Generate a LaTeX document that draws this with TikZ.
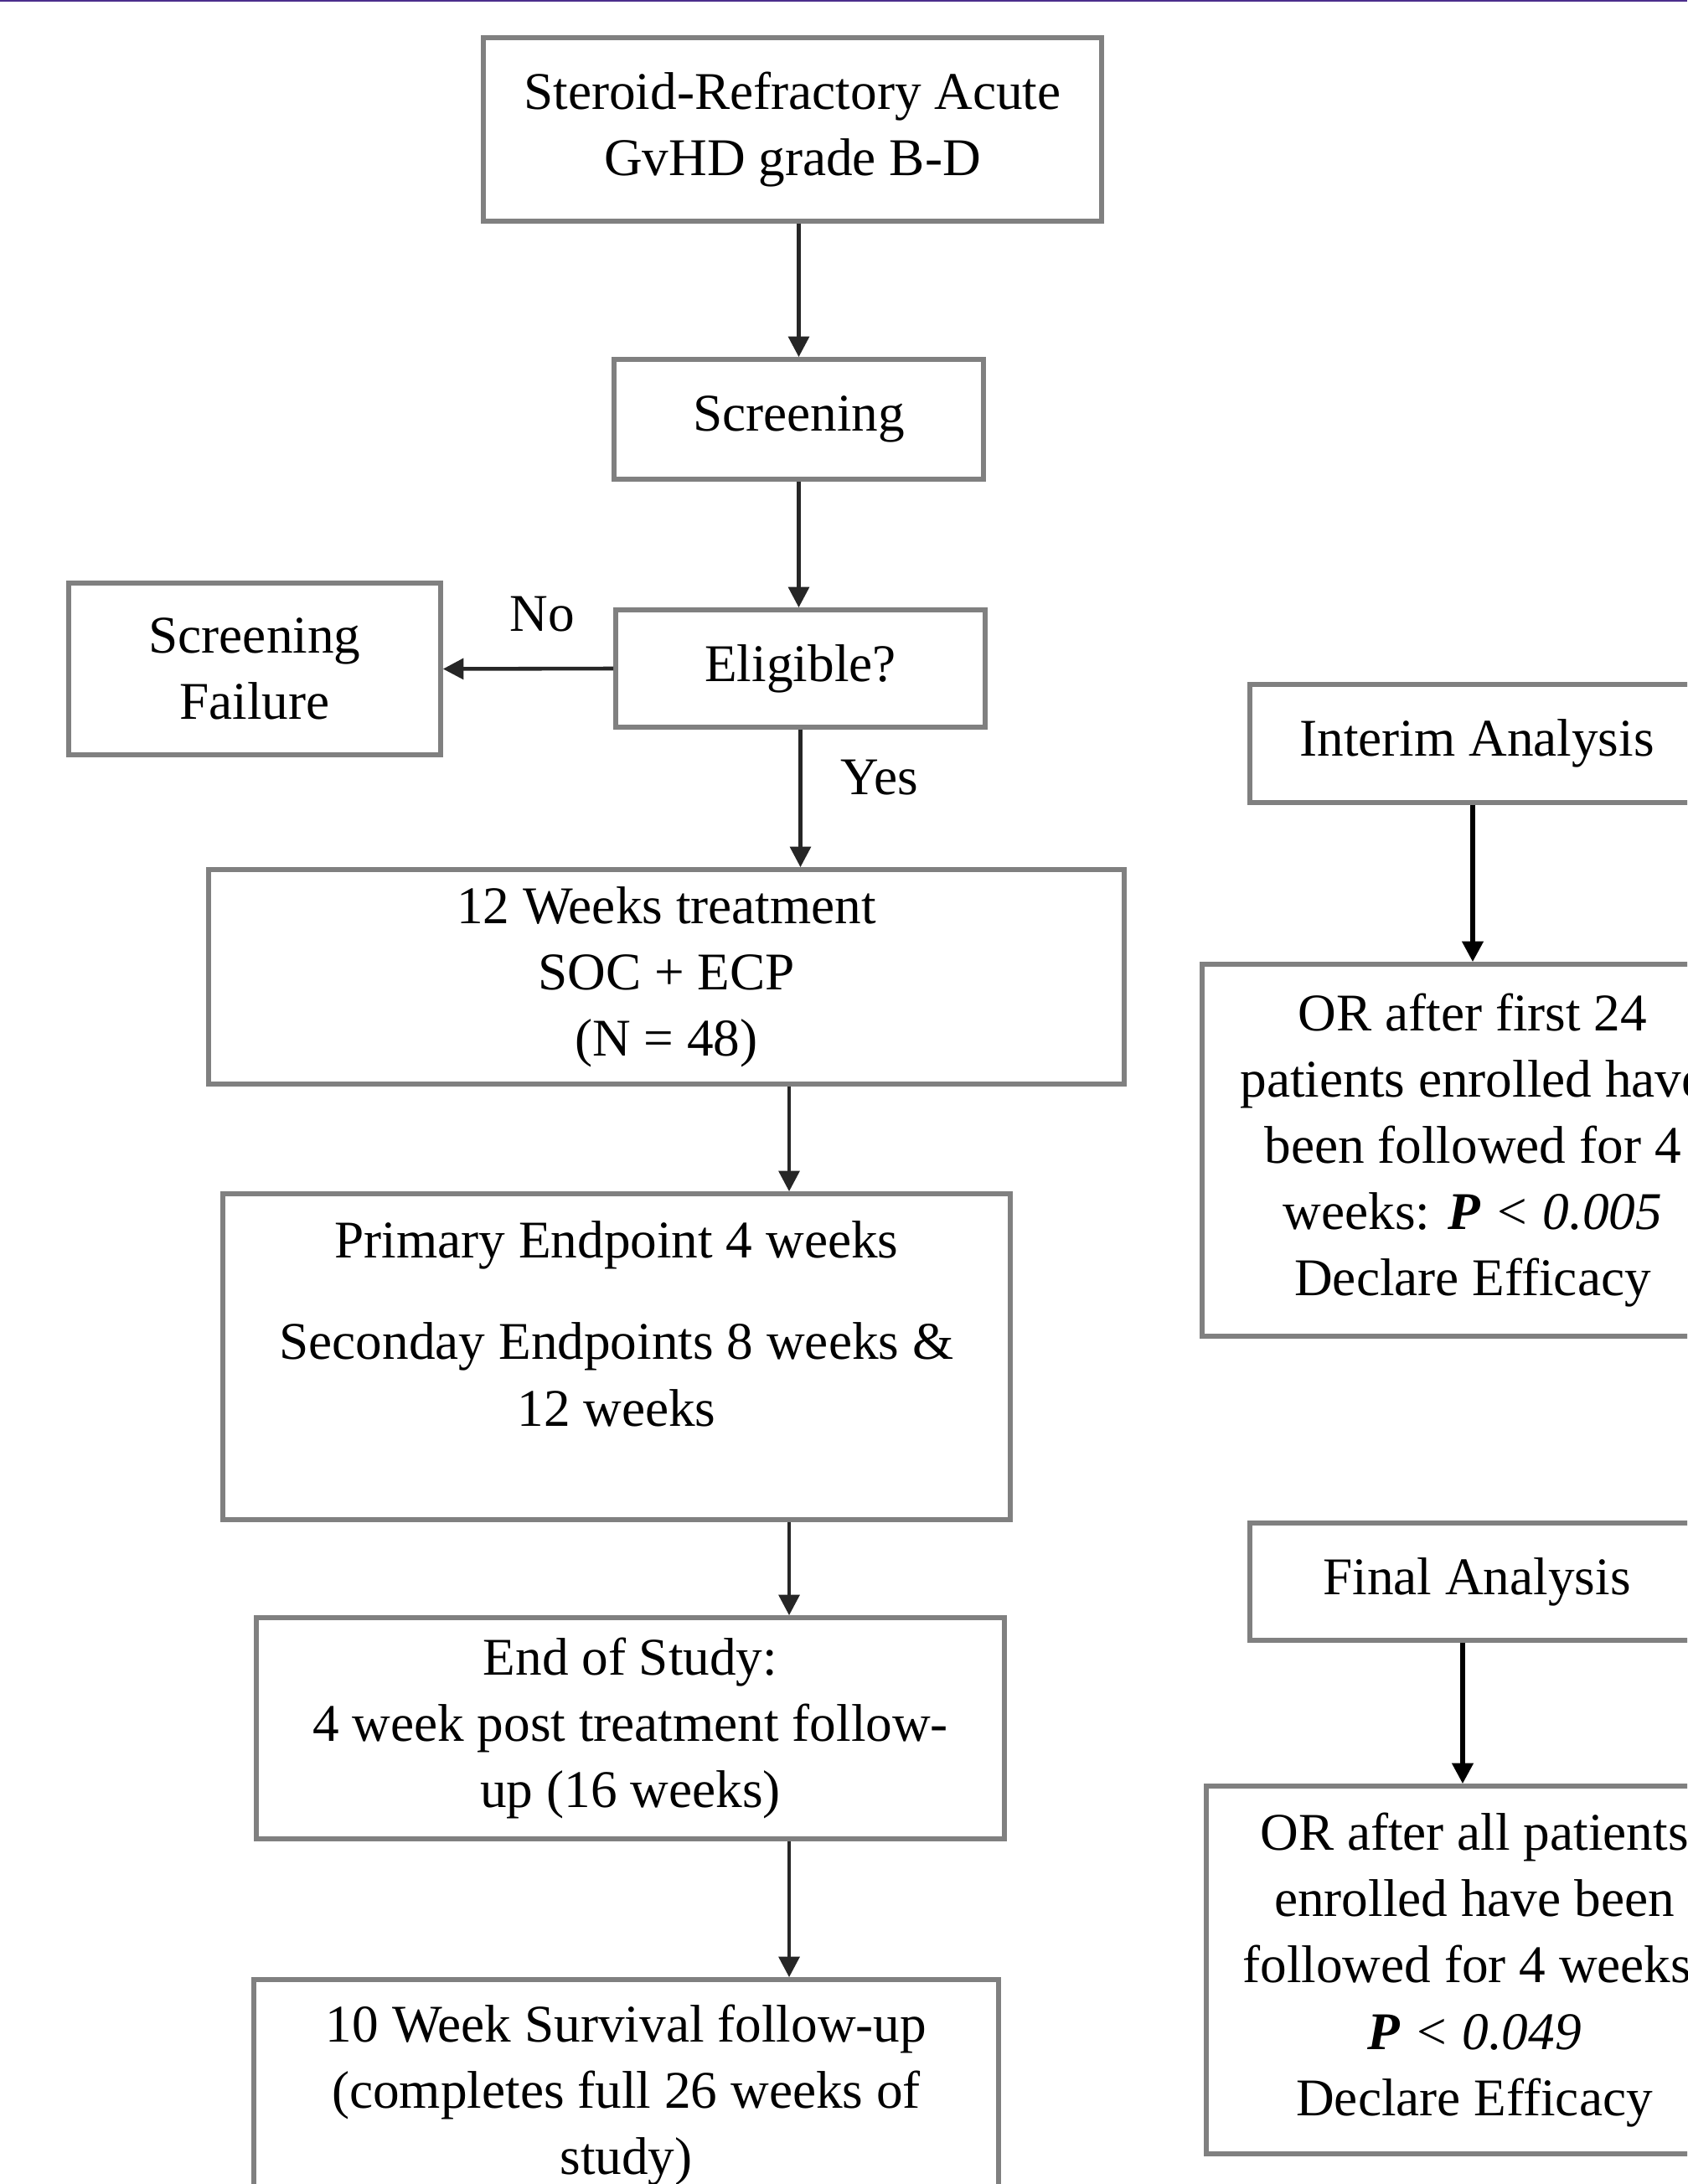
\documentclass[tikz,border=0pt]{standalone}
\usepackage{fontspec}
\setmainfont{Liberation Serif}
\usetikzlibrary{arrows.meta,calc}
\definecolor{banner}{RGB}{76,46,140}

\begin{document}
\begin{tikzpicture}[
  font=\fontsize{18}{22.5}\selectfont,
  >={Triangle[length=7pt,width=7pt]},
  box/.style={draw=black!50, line width=1.6pt, align=center, inner sep=0pt},
  flow/.style={->, draw=black!85, line width=1.3pt},
  bigflow/.style={->, draw=black, line width=1.6pt},
  lab/.style={align=center}
]
\path[use as bounding box] (0,0) rectangle (20.14,-26.07);
\clip (0,0) rectangle (20.14,-26.07);
\fill[banner] (0,0) rectangle (20.14,-0.025);

% main study flow
\node[box, minimum width=7.38cm, minimum height=2.19cm] (refractory) at (9.46,-1.545)
  {Steroid-Refractory Acute\\GvHD grade B-D};
\node[box, minimum width=4.41cm, minimum height=1.43cm] (screen) at (9.535,-5.005) {Screening};
\node[box, minimum width=4.41cm, minimum height=1.40cm] (eligible) at (9.555,-7.98) {Eligible?};
\node[box, minimum width=4.44cm, minimum height=2.05cm] (failure) at (3.04,-7.985) {Screening\\Failure};
\node[box, minimum width=10.93cm, minimum height=2.56cm] (treat) at (7.955,-11.66)
  {12 Weeks treatment\\SOC + ECP\\(N = 48)};
\node[box, minimum width=9.40cm, minimum height=3.89cm] (endpoints) at (7.36,-16.195)
  {Primary Endpoint 4 weeks\\[0.42cm]Seconday Endpoints 8 weeks \&\\12 weeks\\\mbox{}};
\node[box, minimum width=8.93cm, minimum height=2.64cm] (eos) at (7.525,-20.63)
  {End of Study:\\4 week post treatment follow-\\up (16 weeks)};
\node[box, minimum width=8.89cm, minimum height=2.76cm] (survival) at (7.475,-25.01)
  {10 Week Survival follow-up\\(completes full 26 weeks of\\study)};

% analyses
\node[box, minimum width=5.42cm, minimum height=1.41cm] (interim) at (17.63,-8.875) {Interim Analysis};
\node[box, minimum width=6.46cm, minimum height=4.44cm] (interimrule) at (17.58,-13.73)
  {OR after first 24\\patients enrolled have\\been followed for 4\\weeks: \textbf{\textit{P}} \textit{< 0.005}\\Declare Efficacy};
\node[box, minimum width=5.42cm, minimum height=1.40cm] (final) at (17.63,-18.88) {Final Analysis};
\node[box, minimum width=6.40cm, minimum height=4.39cm] (finalrule) at (17.60,-23.515)
  {OR after all patients\\enrolled have been\\followed for 4 weeks:\\\textbf{\textit{P}} \textit{< 0.049}\\Declare Efficacy};

\node[lab] (nolab) at (6.47,-7.33) {No};
\node[lab] (yeslab) at (10.50,-9.28) {Yes};

\coordinate (spine) at (9.42,0);

\draw[flow] (refractory.south -| screen.north) -- (screen.north);
\draw[flow] (screen.south) -- (screen.south |- eligible.north);
\draw[flow] (eligible.west) -- (failure.east);
\draw[flow] (eligible.south) -- (eligible.south |- treat.north);
\draw[flow] (treat.south -| spine) -- (endpoints.north -| spine);
\draw[flow] (endpoints.south -| spine) -- (eos.north -| spine);
\draw[flow] (eos.south -| spine) -- (survival.north -| spine);

\draw[bigflow] (interim.south -| interimrule.north) -- (interimrule.north);
\draw[bigflow] ([xshift=-1.7mm]final.south) -- ([xshift=-1.7mm]final.south |- finalrule.north);
\end{tikzpicture}
\end{document}
